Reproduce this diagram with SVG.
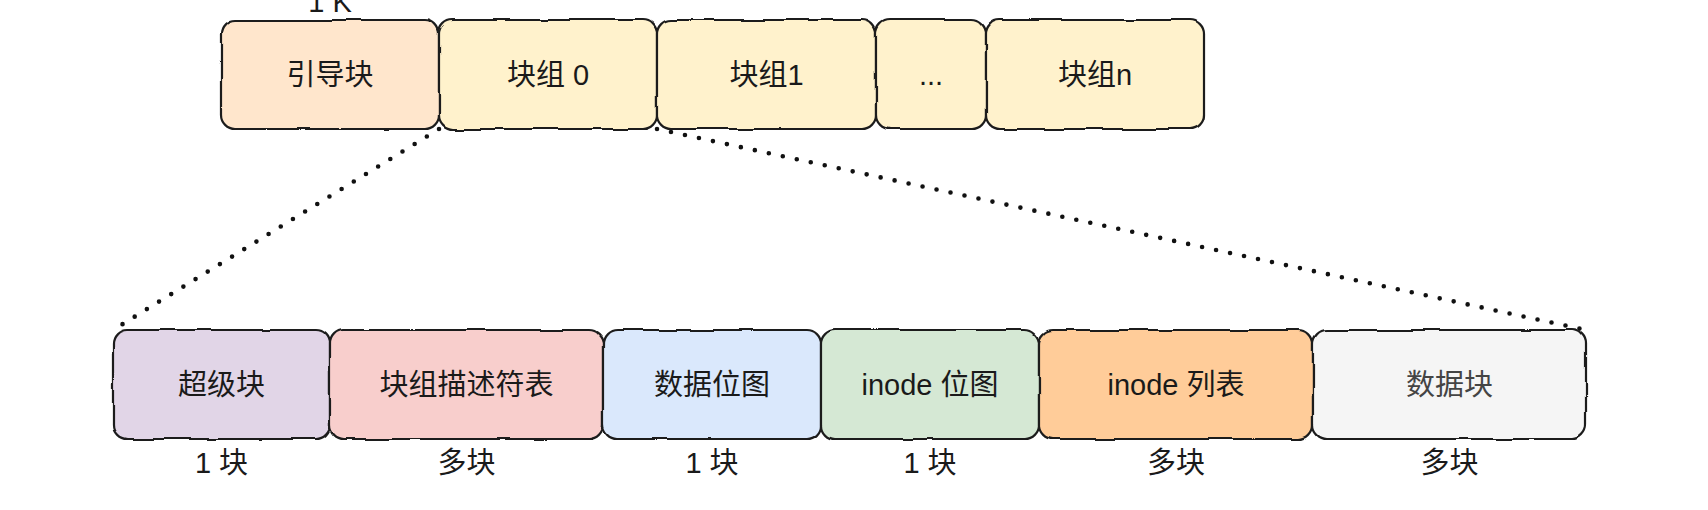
<svg xmlns="http://www.w3.org/2000/svg" width="1708" height="510" viewBox="0 0 1708 510">
  <defs>
    <filter id="sketch" x="-5%" y="-10%" width="110%" height="120%">
      <feTurbulence type="fractalNoise" baseFrequency="0.025" numOctaves="2" seed="3" result="noise"/>
      <feDisplacementMap in="SourceGraphic" in2="noise" scale="4" xChannelSelector="R" yChannelSelector="G"/>
    </filter>
  </defs>
  <style>
    .box { stroke: #1f1f1f; stroke-width: 2.2; filter: url(#sketch); }
    .t { font-family: "Liberation Sans", "Noto Sans CJK SC", sans-serif; font-size: 29px; fill: #1a1a1a; text-anchor: middle; dominant-baseline: central; }
    .gray { fill: #444444; }
    .conn { fill: none; stroke: #111111; stroke-width: 4.6; stroke-linecap: round; stroke-dasharray: 0 14.3; }
  </style>
  <rect width="1708" height="510" fill="#ffffff"/>

  <g id="connectors">
    <line class="conn" x1="439" y1="129" x2="113" y2="330"/>
    <line class="conn" x1="657" y1="129" x2="1586" y2="330"/>
  </g>

  <text class="t" x="330" y="2" id="label-1k">1 K</text>

  <g id="node-boot">
    <rect class="box" x="221" y="20" width="218" height="109" rx="14" fill="#FFE6CC"/>
    <text class="t" x="330" y="75">引导块</text>
  </g>
  <g id="node-group0">
    <rect class="box" x="439" y="20" width="218" height="109" rx="14" fill="#FFF2CC"/>
    <text class="t" x="548" y="75">块组 0</text>
  </g>
  <g id="node-group1">
    <rect class="box" x="657" y="20" width="219" height="109" rx="14" fill="#FFF2CC"/>
    <text class="t" x="766.5" y="75">块组1</text>
  </g>
  <g id="node-dots">
    <rect class="box" x="876" y="20" width="110" height="109" rx="14" fill="#FFF2CC"/>
    <text class="t" x="931" y="75">...</text>
  </g>
  <g id="node-groupn">
    <rect class="box" x="986" y="20" width="218" height="109" rx="14" fill="#FFF2CC"/>
    <text class="t" x="1095" y="75">块组n</text>
  </g>

  <g id="node-super">
    <rect class="box" x="113" y="330" width="217" height="109" rx="14" fill="#E1D5E7"/>
    <text class="t" x="221.5" y="385">超级块</text>
    <text class="t" x="221.5" y="463">1 块</text>
  </g>
  <g id="node-gdt">
    <rect class="box" x="330" y="330" width="273" height="109" rx="14" fill="#F8CECC"/>
    <text class="t" x="466.5" y="385">块组描述符表</text>
    <text class="t" x="466.5" y="463">多块</text>
  </g>
  <g id="node-dbitmap">
    <rect class="box" x="603" y="330" width="218" height="109" rx="14" fill="#DAE8FC"/>
    <text class="t" x="712" y="385">数据位图</text>
    <text class="t" x="712" y="463">1 块</text>
  </g>
  <g id="node-ibitmap">
    <rect class="box" x="821" y="330" width="218" height="109" rx="14" fill="#D5E8D4"/>
    <text class="t" x="930" y="385">inode 位图</text>
    <text class="t" x="930" y="463">1 块</text>
  </g>
  <g id="node-itable">
    <rect class="box" x="1039" y="330" width="274" height="109" rx="14" fill="#FFCC99"/>
    <text class="t" x="1176" y="385">inode 列表</text>
    <text class="t" x="1176" y="463">多块</text>
  </g>
  <g id="node-data">
    <rect class="box" x="1313" y="330" width="273" height="109" rx="14" fill="#F5F5F5"/>
    <text class="t gray" x="1449.5" y="385">数据块</text>
    <text class="t" x="1449.5" y="463">多块</text>
  </g>
</svg>
